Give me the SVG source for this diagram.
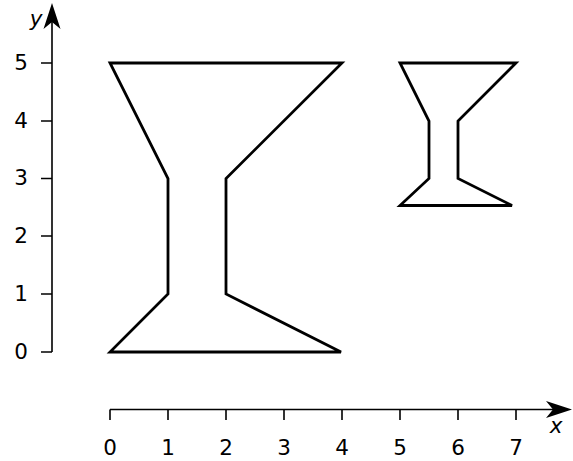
<svg xmlns="http://www.w3.org/2000/svg" width="573" height="461" viewBox="0 0 573 461">
<style>
.ax{stroke:#000;stroke-width:1.6;fill:none}
.shape{stroke:#000;stroke-width:2.8;fill:none;stroke-linejoin:miter}
.lbl{font-family:"DejaVu Sans",sans-serif;font-size:21.5px;fill:#000}
.it{font-style:italic}
</style>
<rect width="573" height="461" fill="#fff"/>
<g id="axes">
<path class="ax" d="M52,352 V18 M110,409.5 H558"/>
<path class="ax" d="M41,352 H52 M41,294 H52 M41,236 H52 M41,178.5 H52 M41,121 H52 M41,63 H52"/>
<path class="ax" d="M110,409.5 V420 M168,409.5 V420 M226,409.5 V420 M284,409.5 V420 M342,409.5 V420 M400,409.5 V420 M458,409.5 V420 M516,409.5 V420"/>
<path d="M52,3 L60.5,29 L52,22 L43.5,29 Z" fill="#000"/>
<path d="M572,409.5 L546,401 L553,409.5 L546,418 Z" fill="#000"/>
<g class="lbl" text-anchor="middle">
<text x="21" y="359">0</text>
<text x="21" y="301">1</text>
<text x="21" y="243">2</text>
<text x="21" y="185">3</text>
<text x="21" y="128">4</text>
<text x="21" y="70">5</text>
<text x="110" y="455">0</text>
<text x="168" y="455">1</text>
<text x="226" y="455">2</text>
<text x="284" y="455">3</text>
<text x="342" y="455">4</text>
<text x="400" y="455">5</text>
<text x="458" y="455">6</text>
<text x="516" y="455">7</text>
<text class="it" x="36" y="26">y</text>
<text class="it" x="556" y="433">x</text>
</g>
</g>
<g id="big">
<path class="shape" d="M110,63 L342,63 L226,178.5 L226,294 L341,352 L110,352 L168,294 L168,178.5 Z"/>
</g>
<g id="small">
<path class="shape" d="M400,63 L516,63 L458,121 L458,178.5 L512,205.5 L400,205.5 L429,178.5 L429,121 Z"/>
</g>
</svg>
